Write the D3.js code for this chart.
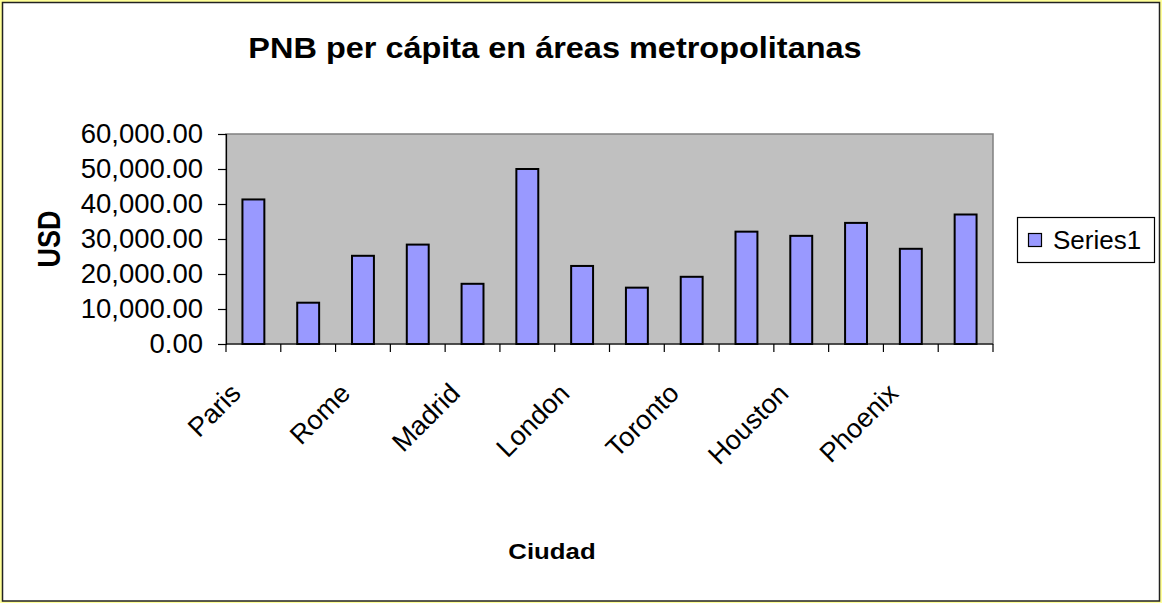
<!DOCTYPE html>
<html>
<head>
<meta charset="utf-8">
<script src="https://cdn.jsdelivr.net/npm/d3@7"></script>
<style>
  body { margin: 0; background: #fff; }
  text { font-family: Arial, "Liberation Sans", sans-serif; fill: #000; }
</style>
</head>
<body>
<div id="chart"></div>
<script>
// data
var cities = ["Paris", "Berlin", "Rome", "Milan", "Madrid", "New York", "London",
              "Chicago", "Toronto", "Dallas", "Houston", "Atlanta", "Phoenix", "Boston"];
var values = [41300, 11800, 25200, 28400, 17200, 50000, 22300,
              16100, 19200, 32100, 30900, 34600, 27200, 37000];
var yTicks = [0, 10000, 20000, 30000, 40000, 50000, 60000];
var seriesName = "Series1";

var W = 1162, H = 603;
var plot = {left: 226, right: 993, top: 134, bottom: 344};

var svg = d3.select("#chart").append("svg")
  .attr("width", W).attr("height", H);

// outer frame
svg.append("rect").attr("width", W).attr("height", H).attr("fill", "#ffff99");
svg.append("rect")
  .attr("x", 2.5).attr("y", 2.5).attr("width", W - 5).attr("height", H - 4.5)
  .attr("fill", "#fff").attr("stroke", "#222").attr("stroke-width", 1.5);

var x = d3.scaleBand()
  .domain(cities)
  .range([plot.left, plot.right]);

var y = d3.scaleLinear()
  .domain([0, 60000])
  .range([plot.bottom, plot.top]);

// plot area
svg.append("rect")
  .attr("x", plot.left).attr("y", plot.top)
  .attr("width", plot.right - plot.left).attr("height", plot.bottom - plot.top)
  .attr("fill", "#c0c0c0").attr("stroke", "#808080").attr("stroke-width", 1.5);

// bars
var barW = x.bandwidth() * 0.4;
svg.selectAll(".bar")
  .data(values)
  .enter()
  .append("rect")
    .attr("class", "bar")
    .attr("x", function(d, i) { return x(cities[i]) + (x.bandwidth() - barW) / 2; })
    .attr("width", barW)
    .attr("y", function(d) { return y(d); })
    .attr("height", function(d) { return plot.bottom - y(d); })
    .attr("fill", "#9999ff")
    .attr("stroke", "#000")
    .attr("stroke-width", 2);

// y axis
var yAxis = svg.append("g")
  .attr("transform", "translate(" + plot.left + ",0)")
  .call(d3.axisLeft(y).tickValues(yTicks).tickSize(8).tickPadding(15)
    .tickFormat(d3.format(",.2f")));
yAxis.select(".domain").attr("stroke", "#000").attr("stroke-width", 1.2);
yAxis.selectAll(".tick line").attr("stroke", "#000").attr("stroke-width", 1.2);
yAxis.selectAll(".tick text")
  .style("font-size", "27.5px")
  .attr("font-family", null);

// x axis: ticks at category boundaries
var bounds = cities.map(function(c) { return x(c); }).concat([plot.right]);
svg.append("line")
  .attr("x1", plot.left).attr("x2", plot.right)
  .attr("y1", plot.bottom).attr("y2", plot.bottom)
  .attr("stroke", "#000").attr("stroke-width", 1.2);
svg.selectAll(".xtick")
  .data(bounds)
  .enter()
  .append("line")
    .attr("x1", function(d) { return d; }).attr("x2", function(d) { return d; })
    .attr("y1", plot.bottom).attr("y2", plot.bottom + 8)
    .attr("stroke", "#000").attr("stroke-width", 1.2);

// category labels, every other one
svg.selectAll(".xlabel")
  .data(cities.filter(function(c, i) { return i % 2 === 0; }))
  .enter()
  .append("text")
    .attr("text-anchor", "end")
    .style("font-size", "27px")
    .attr("transform", function(d) {
      return "translate(" + (x(d) + x.bandwidth() / 2 - 11) + "," + (plot.bottom + 51) + ") rotate(-45)";
    })
    .text(function(d) { return d; });

// titles
svg.append("text")
  .attr("text-anchor", "middle")
  .style("font-size", "29px").style("font-weight", "bold")
  .attr("transform", "translate(555,58) scale(1.12,1)")
  .text("PNB per cápita en áreas metropolitanas");

svg.append("text")
  .attr("text-anchor", "middle")
  .style("font-size", "23px").style("font-weight", "bold")
  .attr("transform", "translate(552,559) scale(1.12,1)")
  .text("Ciudad");

svg.append("text")
  .attr("text-anchor", "middle")
  .style("font-size", "27px").style("font-weight", "bold")
  .attr("transform", "translate(60,239) scale(1.17,1) rotate(-90)")
  .text("USD");

// legend
var lg = svg.append("g").attr("transform", "translate(1017,217)");
lg.append("rect")
  .attr("x", 0.5).attr("y", 0.5).attr("width", 137).attr("height", 45)
  .attr("fill", "#fff").attr("stroke", "#000").attr("stroke-width", 1.2);
lg.append("rect")
  .attr("x", 11.5).attr("y", 16.5).attr("width", 13).attr("height", 13)
  .attr("fill", "#9999ff").attr("stroke", "#000").attr("stroke-width", 1.2);
lg.append("text")
  .attr("x", 36).attr("y", 32)
  .style("font-size", "26px")
  .text(seriesName);
</script>
</body>
</html>
